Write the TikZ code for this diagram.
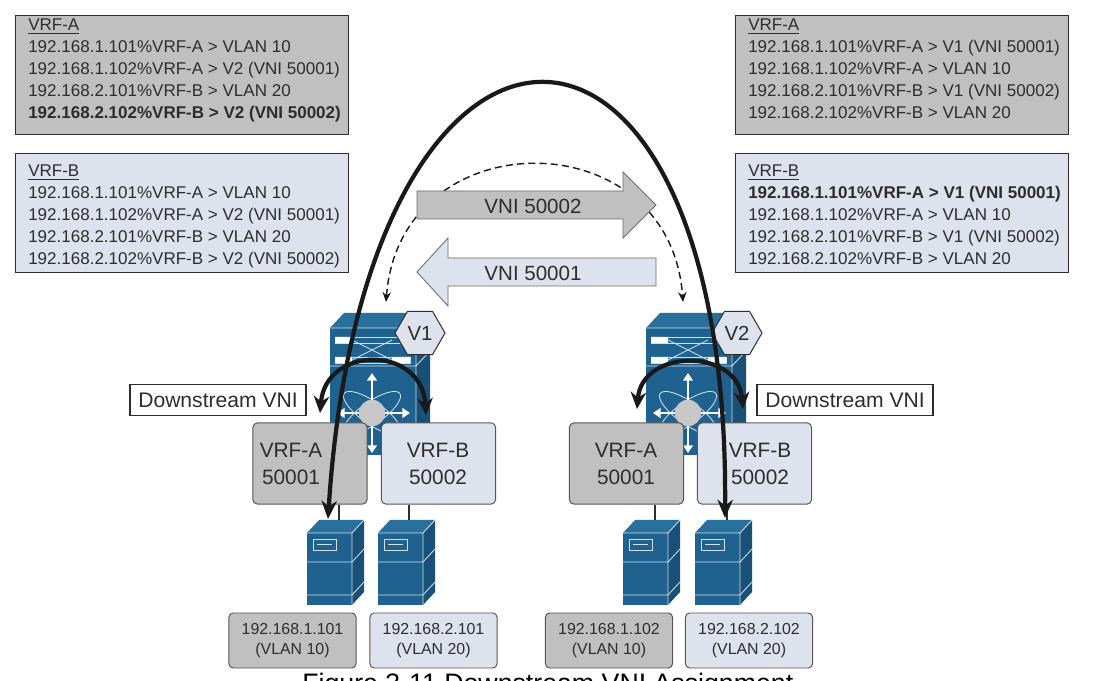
\documentclass[tikz,border=0pt]{standalone}
\usepackage{fontspec}
\setmainfont{Liberation Sans}
\usetikzlibrary{arrows.meta}
\usetikzlibrary{shapes.geometric}

\definecolor{vrfgray}{RGB}{192,192,192}
\definecolor{vrflight}{RGB}{222,226,236}
\definecolor{nxblue}{RGB}{31,98,143}
\definecolor{nxside}{RGB}{24,80,120}
\definecolor{nxtop}{RGB}{42,112,156}
\definecolor{inkgray}{RGB}{45,45,45}
\definecolor{hubgray}{RGB}{200,200,200}

\tikzset{
  tablebox/.style={draw=inkgray, line width=0.8pt, anchor=north west, minimum width=8.325cm, minimum height=2.975cm, inner sep=0pt},
  tabletext/.style={anchor=north west, align=left, inner sep=0pt, text=inkgray, font=\fontsize{12.1}{15.5}\selectfont},
  vrfbox/.style={draw=inkgray!80, line width=0.7pt, rounded corners=3pt, minimum width=2.85cm, minimum height=2.025cm, inner sep=0pt},
  vrftext/.style={align=center, inner sep=0pt, text=inkgray, font=\fontsize{14.8}{19.2}\selectfont},
  dsbox/.style={draw=inkgray, fill=white, line width=0.8pt, minimum width=4.4cm, minimum height=0.76cm, inner sep=0pt, text=inkgray, font=\fontsize{15}{18}\selectfont},
  ipbox/.style={draw=inkgray!80, line width=0.7pt, rounded corners=3pt, minimum width=3.175cm, minimum height=1.375cm, inner sep=0pt, align=center, text=inkgray, font=\fontsize{11.3}{14.2}\selectfont},
  vnilabel/.style={inner sep=0pt, text=inkgray, font=\fontsize{14.6}{17}\selectfont},
  vbadge/.style={regular polygon, regular polygon sides=6, minimum size=1.25cm, inner sep=0pt, draw=inkgray, fill=vrflight, line width=0.7pt, text=inkgray, font=\fontsize{14.5}{17}\selectfont},
  nxline/.style={draw=white!80!nxblue, line width=0.6pt},
  nxarrow/.style={draw=white, line width=1.8pt, -{Triangle[length=5.5pt,width=7pt]}},
  wire/.style={draw=inkgray, line width=1pt},
  bigarc/.style={draw=black!90, line width=3pt, {Stealth[length=13pt,width=11pt]}-{Stealth[length=13pt,width=11pt]}},
  vrfloop/.style={draw=black!90, line width=3pt, {Stealth[length=12pt,width=11pt]}-{Stealth[length=12pt,width=11pt]}},
  vnidash/.style={draw=black!90, line width=1pt, dash pattern=on 5pt off 3pt, {Stealth[length=7pt,width=6pt]}-{Stealth[length=7pt,width=6pt]}},
  pics/nexus/.style={code={
    \fill[nxtop] (0,0) -- (14,-15) -- (100,-15) -- (86,0) -- cycle;
    \fill[nxside] (86,0) -- (100,-15) -- (100,112) -- (86,127) -- cycle;
    \fill[nxblue] (0,0) rectangle (86,127);
    \draw[nxline] (0,0) -- (86,0) -- (100,-15) (86,0) -- (86,127) (0,38) -- (86,38) -- (100,23);
    \draw[nxline] (5,9) rectangle (80,15) (5,29) rectangle (80,35);
    \fill[white] (5,9) rectangle (22,15) (5,29) rectangle (22,35) (62,29) rectangle (80,35);
    \draw[nxline] (22,12) -- (62,32) (22,32) -- (62,12);
    \draw[nxline] (42,85) ellipse [x radius=0.85cm, y radius=0.28cm, rotate=35];
    \draw[nxline] (42,85) ellipse [x radius=0.85cm, y radius=0.28cm, rotate=-35];
    \draw[nxarrow] (42,85) -- (42,45);
    \draw[nxarrow] (42,85) -- (42,125);
    \draw[nxarrow] (42,85) -- (7,85);
    \draw[nxarrow] (42,85) -- (80,85);
    \fill[hubgray] (42,85) circle [radius=0.33cm];
  }},
  pics/server/.style={code={
    \fill[nxtop] (0,0) -- (12,-13) -- (57,-13) -- (45,0) -- cycle;
    \fill[nxside] (45,0) -- (57,-13) -- (57,59) -- (45,72) -- cycle;
    \fill[nxblue] (0,0) rectangle (45,72);
    \draw[nxline] (0,0) -- (45,0) -- (57,-13) (45,0) -- (45,72);
    \draw[nxline] (0,29) -- (45,29) -- (57,16) (0,62) -- (45,62) -- (57,49);
    \draw[nxline] (6,6) rectangle (29,17) (10,11.5) -- (25,11.5);
  }},
}

\begin{document}
\begin{tikzpicture}[x=0.025cm,y=-0.025cm]
    \path[fill=white,use as bounding box] (0,0) rectangle (1100,681);
    % route tables
    \node[tablebox, fill=vrfgray] (tabA1) at (15,15) {};
    \node[tabletext] (tabA1txt) at (28,19) {\underline{VRF-A}\\192.168.1.101\%VRF-A > VLAN 10\\192.168.1.102\%VRF-A > V2 (VNI 50001)\\192.168.2.101\%VRF-B > VLAN 20\\\textbf{192.168.2.102\%VRF-B > V2 (VNI 50002)}};
    \node[tablebox, fill=vrflight] (tabB1) at (15,153) {};
    \node[tabletext] (tabB1txt) at (28,165) {\underline{VRF-B}\\192.168.1.101\%VRF-A > VLAN 10\\192.168.1.102\%VRF-A > V2 (VNI 50001)\\192.168.2.101\%VRF-B > VLAN 20\\192.168.2.102\%VRF-B > V2 (VNI 50002)};
    \node[tablebox, fill=vrfgray] (tabA2) at (735,15) {};
    \node[tabletext] (tabA2txt) at (748,19) {\underline{VRF-A}\\192.168.1.101\%VRF-A > V1 (VNI 50001)\\192.168.1.102\%VRF-A > VLAN 10\\192.168.2.101\%VRF-B > V1 (VNI 50002)\\192.168.2.102\%VRF-B > VLAN 20};
    \node[tablebox, fill=vrflight] (tabB2) at (735,153) {};
    \node[tabletext] (tabB2txt) at (748,165) {\underline{VRF-B}\\\textbf{192.168.1.101\%VRF-A > V1 (VNI 50001)}\\192.168.1.102\%VRF-A > VLAN 10\\192.168.2.101\%VRF-B > V1 (VNI 50002)\\192.168.2.102\%VRF-B > VLAN 20};
    % dashed control plane arc
    \coordinate (dashL) at (386,302);
    \coordinate (dashR) at (683,302);
    \draw[vnidash] (dashL) .. controls (400,119) and (670,119) .. (dashR);
    % VNI arrows
    \filldraw[fill=vrfgray, draw=inkgray!70, line width=0.6pt] (417,191) -- (623,191) -- (623,172) -- (656,205) -- (623,238) -- (623,219) -- (417,219) -- cycle;
    \node[vnilabel] (vni2) at (533,206) {VNI 50002};
    \filldraw[fill=vrflight, draw=inkgray!70, line width=0.6pt] (656,258) -- (448,258) -- (448,238) -- (417,272) -- (448,306) -- (448,286) -- (656,286) -- cycle;
    \node[vnilabel] (vni1) at (533,273) {VNI 50001};
    % switches
    \pic at (330,328) {nexus};
    \pic at (646,328) {nexus};
    \node[vbadge] (v1) at (420,333) {V1};
    \node[vbadge] (v2) at (737,333) {V2};
    \node[dsbox] (ds1) at (218,400) {Downstream VNI};
    \node[dsbox] (ds2) at (845,400) {Downstream VNI};
    % VRFs
    \node[vrfbox, fill=vrfgray] (vrfA1) at (310,463.5) {};
    \node[vrftext] (vrfA1txt) at (291,463.5) {VRF-A\\50001};
    \node[vrfbox, fill=vrflight] (vrfB1) at (438.5,463.5) {};
    \node[vrftext] (vrfB1txt) at (438,463.5) {VRF-B\\50002};
    \node[vrfbox, fill=vrfgray] (vrfA2) at (626.5,463.5) {};
    \node[vrftext] (vrfA2txt) at (626,463.5) {VRF-A\\50001};
    \node[vrfbox, fill=vrflight] (vrfB2) at (754.5,463.5) {};
    \node[vrftext] (vrfB2txt) at (760,463.5) {VRF-B\\50002};
    % hosts
    \coordinate (srv1c) at (339,522);
    \coordinate (srv2c) at (409,522);
    \coordinate (srv3c) at (655,522);
    \coordinate (srv4c) at (727,522);
    \draw[wire] (srv1c) -- (srv1c |- vrfA1.south);
    \draw[wire] (srv2c) -- (srv2c |- vrfB1.south);
    \draw[wire] (srv3c) -- (srv3c |- vrfA2.south);
    \draw[wire] (srv4c) -- (srv4c |- vrfB2.south);
    \pic at (307,533) {server};
    \pic at (378,533) {server};
    \pic at (623,533) {server};
    \pic at (695,533) {server};
    \node[ipbox, fill=vrfgray] (ip1) at (292.5,640.5) {192.168.1.101\\(VLAN 10)};
    \node[ipbox, fill=vrflight] (ip2) at (433.5,640.5) {192.168.2.101\\(VLAN 20)};
    \node[ipbox, fill=vrfgray] (ip3) at (609,640.5) {192.168.1.102\\(VLAN 10)};
    \node[ipbox, fill=vrflight] (ip4) at (749,640.5) {192.168.2.102\\(VLAN 20)};
    % traffic
    \coordinate (srv1) at (328,519);
    \coordinate (srv4) at (725,518);
    \draw[bigarc] (srv1) .. controls (365,-60) and (730,-60) .. (srv4);
    \coordinate (loopLa) at (320,413);
    \coordinate (loopLb) at (426,415);
    \draw[vrfloop] (loopLa) .. controls (326,345) and (422,345) .. (loopLb);
    \coordinate (loopRa) at (637,409);
    \coordinate (loopRb) at (743,409);
    \draw[vrfloop] (loopRa) .. controls (642,348) and (738,348) .. (loopRb);
    \node[anchor=base west, inner sep=0pt, font=\fontsize{19}{23}\selectfont] (caption) at (302,692) {Figure 3-11 Downstream VNI Assignment};
\end{tikzpicture}
\end{document}
